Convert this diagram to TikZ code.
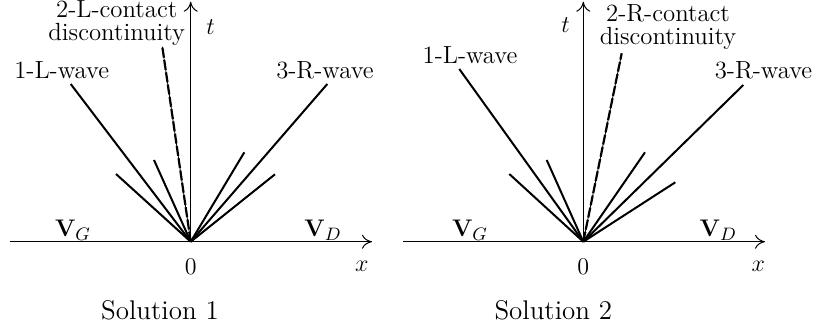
\documentclass[tikz,border=0pt]{standalone}
\usepackage{amsmath}
\usepackage{tikz}
\usetikzlibrary{arrows.meta,positioning,calc}

\begin{document}
\begin{tikzpicture}[x=0.5pt, y=0.5pt,
  axis/.style={line width=0.5pt, -{To[length=5pt,width=7pt]}},
  wave/.style={line width=1pt},
  contact/.style={line width=1.1pt, dash pattern=on 5pt off 1.2pt},
  under/.style={line width=0.4pt},
  lbl/.style={inner sep=0pt, font=\fontsize{12.4}{11.5}\selectfont, align=center},
  soltxt/.style={inner sep=0pt, font=\fontsize{13.5}{16}\selectfont},
]
\useasboundingbox (-190.7,-87.3) rectangle (627.3,241.7);

%==== Solution 1 ====
\coordinate (o1) at (0,0);
\coordinate (xa1) at (-180.7,0);
\coordinate (xb1) at (181.3,0);
\coordinate (ta1) at (0,240);
\draw[axis] (xa1) -- (xb1);
\draw[axis] (o1) -- (ta1);
\coordinate (l1a) at (-120,157.7);
\coordinate (l2a) at (-74.7,67.7);
\coordinate (l3a) at (-36.7,81.7);
\coordinate (cda) at (-28.4,195);
\coordinate (r1a) at (53.6,89.4);
\coordinate (r2a) at (84.3,67.4);
\coordinate (r3a) at (136.6,157.7);
\foreach \p in {l1a,l2a,l3a,r1a,r2a,r3a}
  \draw[wave] (o1) -- (\p);
\draw[under] (o1) -- (cda);
\draw[contact] (o1) -- (cda);
\node[lbl] (w1a) at (-129,171.7) {1-L-wave};
\node[lbl] (w2a) at (-74,218.5) {2-L-contact\\discontinuity};
\node[lbl] (w3a) at (134.3,171.7) {3-R-wave};
\node[lbl] (ta) at (20,215) {$t$};
\node[lbl] (xa) at (171,-25) {$x$};
\node[lbl] (za) at (0,-25) {$0$};
\node[lbl] (vga) at (-117.7,11.7) {$\mathbf{V}_G$};
\node[lbl] (vda) at (132.3,11.7) {$\mathbf{V}_D$};
\node[soltxt] (s1) at (-30.7,-68.3) {Solution 1};

%==== Solution 2 ====
\begin{scope}[xshift=196.3pt]
\coordinate (o2) at (0,0);
\coordinate (xa2) at (-180.3,0);
\coordinate (xb2) at (181.7,0);
\coordinate (ta2) at (0,240);
\draw[axis] (xa2) -- (xb2);
\draw[axis] (o2) -- (ta2);
\coordinate (l1b) at (-124,172.7);
\coordinate (l2b) at (-74,67.7);
\coordinate (l3b) at (-36.6,81.7);
\coordinate (cdb) at (38.4,188.4);
\coordinate (r1b) at (61.7,89.4);
\coordinate (r2b) at (92,59.4);
\coordinate (r3b) at (160,156.7);
\foreach \p in {l1b,l2b,l3b,r1b,r2b,r3b}
  \draw[wave] (o2) -- (\p);
\draw[under] (o2) -- (cdb);
\draw[contact] (o2) -- (cdb);
\node[lbl] (w1b) at (-113.3,186.7) {1-L-wave};
\node[lbl] (w2b) at (84.7,214.5) {2-R-contact\\discontinuity};
\node[lbl] (w3b) at (180.2,171.7) {3-R-wave};
\node[lbl] (tb) at (-17.6,216.7) {$t$};
\node[lbl] (xb) at (175,-25) {$x$};
\node[lbl] (zb) at (0,-25) {$0$};
\node[lbl] (vgb) at (-113.3,11.7) {$\mathbf{V}_G$};
\node[lbl] (vdb) at (135,11.7) {$\mathbf{V}_D$};
\node[soltxt] (s2) at (-30,-68.3) {Solution 2};
\end{scope}

\end{tikzpicture}
\end{document}
